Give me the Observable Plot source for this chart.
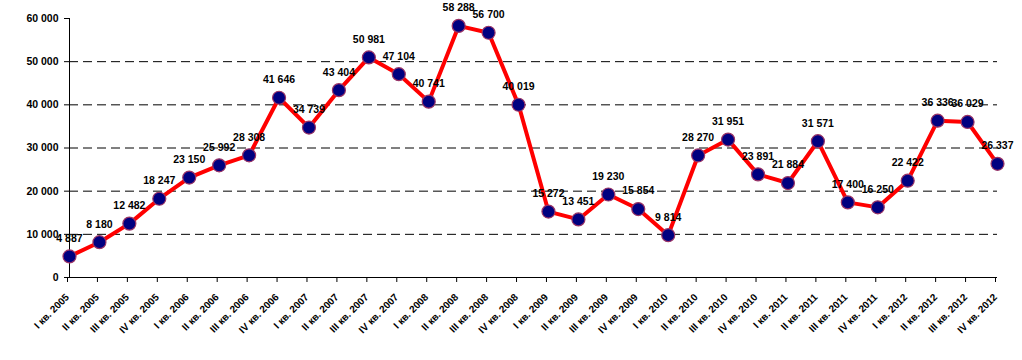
<!DOCTYPE html>
<html>
<head>
<meta charset="utf-8">
<script src="https://cdn.jsdelivr.net/npm/d3@7"></script>
<script src="https://cdn.jsdelivr.net/npm/@observablehq/plot@0.6"></script>
<style>
  html, body { margin: 0; padding: 0; background: #fff; }
</style>
</head>
<body>
<div id="chart"></div>
<script>
const quarters = [
  "I кв. 2005","II кв. 2005","III кв. 2005","IV кв. 2005",
  "I кв. 2006","II кв. 2006","III кв. 2006","IV кв. 2006",
  "I кв. 2007","II кв. 2007","III кв. 2007","IV кв. 2007",
  "I кв. 2008","II кв. 2008","III кв. 2008","IV кв. 2008",
  "I кв. 2009","II кв. 2009","III кв. 2009","IV кв. 2009",
  "I кв. 2010","II кв. 2010","III кв. 2010","IV кв. 2010",
  "I кв. 2011","II кв. 2011","III кв. 2011","IV кв. 2011",
  "I кв. 2012","II кв. 2012","III кв. 2012","IV кв. 2012"
];
const values = [
  4887, 8180, 12482, 18247,
  23150, 25992, 28308, 41646,
  34739, 43404, 50981, 47104,
  40741, 58288, 56700, 40019,
  15272, 13451, 19230, 15854,
  9814, 28270, 31951, 23891,
  21884, 31571, 17400, 16250,
  22422, 36336, 36029, 26337
];
const yTicks = [0, 10000, 20000, 30000, 40000, 50000, 60000];
const gridTicks = [10000, 20000, 30000, 40000, 50000];

const fmt = d => d3.format(",")(d).replace(/,/g, " ");
const data = quarters.map((q, i) => ({i, q, v: values[i]}));
const idx = quarters.map((q, i) => i);

const chart = Plot.plot({
  width: 1022,
  height: 360,
  marginLeft: 69,
  marginRight: 25,
  marginTop: 18,
  marginBottom: 83,
  style: {fontFamily: "'Liberation Sans', Arial, sans-serif", background: "#fff", color: "#000"},
  x: {type: "linear", domain: [0, quarters.length - 1]},
  y: {domain: [0, 60000]},
  marks: [
    Plot.gridY(gridTicks, {stroke: "#000", strokeOpacity: 1, strokeWidth: 1, strokeDasharray: "9,5"}),
    Plot.ruleY([0], {stroke: "#000", strokeWidth: 1}),
    Plot.ruleX([0], {y1: 0, y2: 60000, stroke: "#000", strokeWidth: 1}),
    Plot.axisY({ticks: yTicks, tickFormat: fmt, tickSize: 5, tickPadding: 6, fontWeight: "bold", fontSize: 10.5, label: null}),
    Plot.axisX({ticks: idx, tickFormat: i => quarters[i], tickRotate: -45, tickSize: 5, tickPadding: 13, dx: -2, fontWeight: "bold", fontSize: 10, label: null}),
    Plot.line(data, {x: "i", y: "v", stroke: "#ff0000", strokeWidth: 4, strokeLinejoin: "round"}),
    Plot.dot(data, {x: "i", y: "v", r: 6.5, fill: "#000080", stroke: "#993366", strokeWidth: 1.2}),
    Plot.text(data, {x: "i", y: "v", text: d => fmt(d.v), dy: -18, fontWeight: "bold", fontSize: 10.5, fill: "#000"})
  ]
});
document.getElementById("chart").appendChild(chart);
</script>
</body>
</html>
